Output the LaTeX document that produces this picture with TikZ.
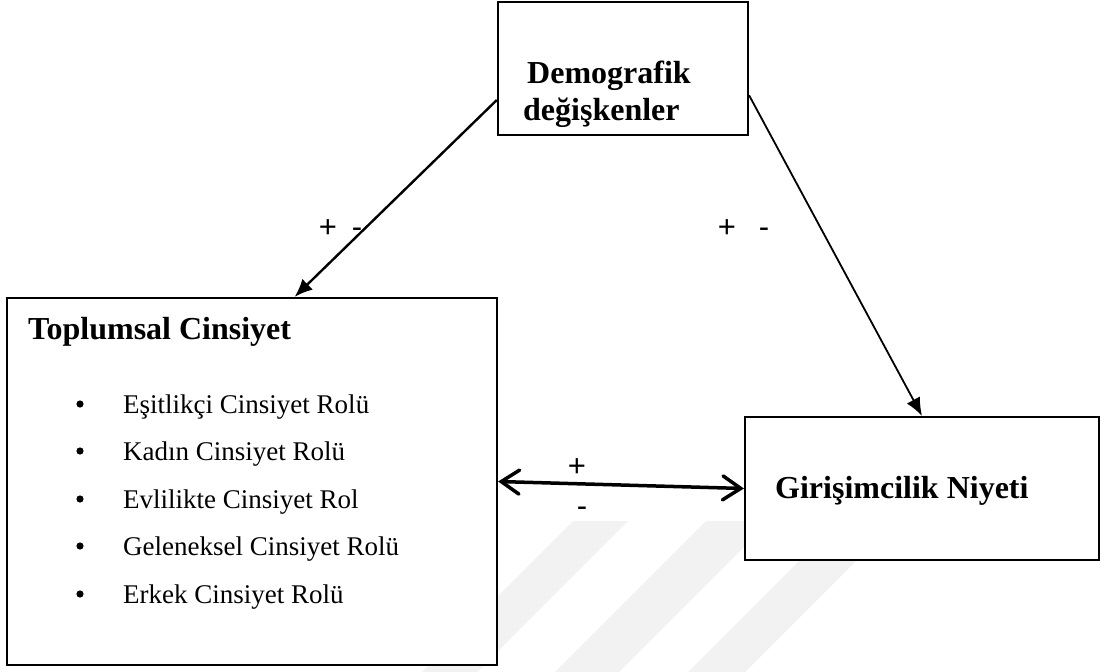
\documentclass[tikz,border=0pt]{standalone}
\usepackage{fontspec}
\setmainfont{Liberation Serif}
\newfontfamily\sansf{Liberation Sans}
\usetikzlibrary{arrows.meta}

\newcommand{\Bk}{\fontsize{32}{38}\selectfont\bfseries}
\newcommand{\Rk}{\fontsize{27}{32}\selectfont}
\newcommand{\Sk}{\sansf\fontsize{31}{34}\selectfont}

\begin{document}
\begin{tikzpicture}[x=1pt,y=-1pt,
    kutu/.style={draw, line width=2.2pt, fill=white, inner sep=0pt},
    yazi/.style={anchor=base west, inner sep=0pt},
    ok/.style={line width=2.4pt, -{Latex[length=18pt,width=15pt]}},
    isaret/.style={font=\Sk, inner sep=0pt}]
    \useasboundingbox (0,0) rectangle (1104,672);
    \clip (0,0) rectangle (1104,672);
    % faint bands behind the boxes
    \fill[black!5] (573,521) -- (628,521) -- (459,690) -- (404,690) -- cycle;
    \fill[black!5] (706,521) -- (770,521) -- (601,690) -- (537,690) -- cycle;
    \fill[black!5] (800,560) -- (857,560) -- (727,690) -- (670,690) -- cycle;
    % the three boxes
    \node[kutu, minimum width=250, minimum height=133] (demo) at (623,68.5) {};
    \node[kutu, minimum width=490, minimum height=367] (toplumsal) at (252,481.5) {};
    \node[kutu, minimum width=354, minimum height=143] (girisim) at (922,488.5) {};
    % texts
    \node[yazi, font=\Bk] (demo1) at (527,83) {Demografik};
    \node[yazi, font=\Bk] (demo2) at (523,120) {değişkenler};
    \node[yazi, font=\Bk] (baslik) at (28,339) {Toplumsal Cinsiyet};
    \foreach \y/\t [count=\i] in {413/Eşitlikçi Cinsiyet Rolü,
      460/Kadın Cinsiyet Rolü, 508/Evlilikte Cinsiyet Rol,
      555/Geleneksel Cinsiyet Rolü, 603/Erkek Cinsiyet Rolü}{% one line per role
      \fill (80,\y-9) circle (3.6);
      \node[yazi, font=\Rk] (rol\i) at (123,\y) {\t};}
    \node[yazi, font=\Bk] (niyet) at (775,498) {Girişimcilik Niyeti};
    % connectors
    \draw[ok] (demo.194) -- (toplumsal.77);
    \draw[ok, line width=1.8pt] (demo.348) -- (girisim.north);
    \draw[line width=3.5pt, {Straight Barb[length=18pt,width=24pt,line cap=round]}-{Straight Barb[length=18pt,width=24pt,line cap=round]}]
        (toplumsal.east) -- (girisim.west);
    % signs
    \node[isaret] (arti1) at (328,229) {+};
    \node[isaret] (eksi1) at (357,233) {-};
    \node[isaret] (arti2) at (727,229) {+};
    \node[isaret] (eksi2) at (764,233) {-};
    \node[isaret] (arti3) at (577,468) {+};
    \node[isaret] (eksi3) at (582,512) {-};
\end{tikzpicture}
\end{document}
